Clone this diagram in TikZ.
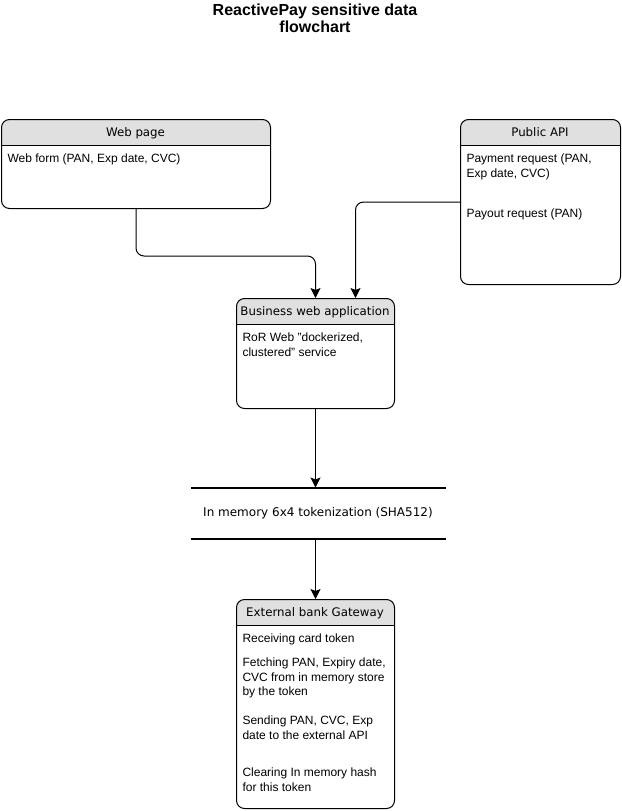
\documentclass[tikz,border=0pt]{standalone}
\usepackage{fontspec}
\setmainfont{Liberation Sans}
\newfontfamily\hdrfont{DejaVu Sans}
\usetikzlibrary{arrows.meta}
\definecolor{hdrgray}{RGB}{224,224,224}

\begin{document}
\begin{tikzpicture}[x=1pt,y=-1pt,line width=1pt]
\tikzstyle{every node}+=[inner sep=0pt]
\tikzstyle{lane}=[draw, rounded corners=8pt, anchor=north west,
  path picture={
    \fill[hdrgray, sharp corners] (path picture bounding box.north west) rectangle ([yshift=-26pt]path picture bounding box.north east);
    \draw[sharp corners] ([yshift=-26pt]path picture bounding box.north west) -- ([yshift=-26pt]path picture bounding box.north east);
  }]
\tikzstyle{hdr}=[font=\hdrfont\fontsize{11.8}{14}\selectfont, anchor=base]
\tikzstyle{body}=[font=\fontsize{12}{14.5}\selectfont, anchor=north west, align=left]
\tikzstyle{link}=[-{Stealth[length=10pt,width=10pt,inset=2pt]}, rounded corners=8pt]

\useasboundingbox (0,0) rectangle (621,811);

% title
\node[font=\bfseries\fontsize{16}{17.5}\selectfont, align=center] (title) at (315,18.5) {ReactivePay sensitive data\\flowchart};

% web page
\node[lane, minimum width=269pt, minimum height=89pt] (web) at (1,119) {};
\node[hdr] (webhdr) at (135.5,136.5) {Web page};
\node[body] (webform) at (7,153.5) {Web form (PAN, Exp date, CVC)};

% public api
\node[lane, minimum width=160pt, minimum height=165pt] (api) at (460,119) {};
\node[hdr] (apihdr) at (540,136.5) {Public API};
\node[body] (apipay) at (466,153.5) {Payment request (PAN,\\Exp date, CVC)};
\node[body] (apiout) at (466,208.5) {Payout request (PAN)};

% business app
\node[lane, minimum width=158pt, minimum height=110pt] (app) at (236,298) {};
\node[hdr] (apphdr) at (315,315.5) {Business web application};
\node[body] (appror) at (242,332.5) {RoR Web "dockerized,\\clustered" service};

% tokenization
\node[minimum width=254pt, minimum height=50pt, font=\hdrfont\fontsize{12}{14}\selectfont] (token) at (318,513) {In memory 6x4 tokenization (SHA512)};
\draw[line width=2pt] (token.north west) -- (token.north east);
\draw[line width=2pt] (token.south west) -- (token.south east);

% gateway
\node[lane, minimum width=158pt, minimum height=209pt] (gw) at (236,599) {};
\node[hdr] (gwhdr) at (315,616.5) {External bank Gateway};
\node[body] (gwrecv) at (242,633.5) {Receiving card token};
\node[body] (gwfetch) at (242,657.5) {Fetching PAN, Expiry date,\\CVC from in memory store\\by the token};
\node[body] (gwsend) at (242,715.5) {Sending PAN, CVC, Exp\\date to the external API};
\node[body] (gwclear) at (242,767.5) {Clearing In memory hash\\for this token};

% links
\draw[link] (web.south) -- ++(0,47) -| (app.north);
\draw[link] (api.west) -| ([xshift=40pt]app.north);
\draw[link] (app.south) -- (app.south |- token.north);
\draw[link] (app.south |- token.south) -- (gw.north);
\end{tikzpicture}
\end{document}
